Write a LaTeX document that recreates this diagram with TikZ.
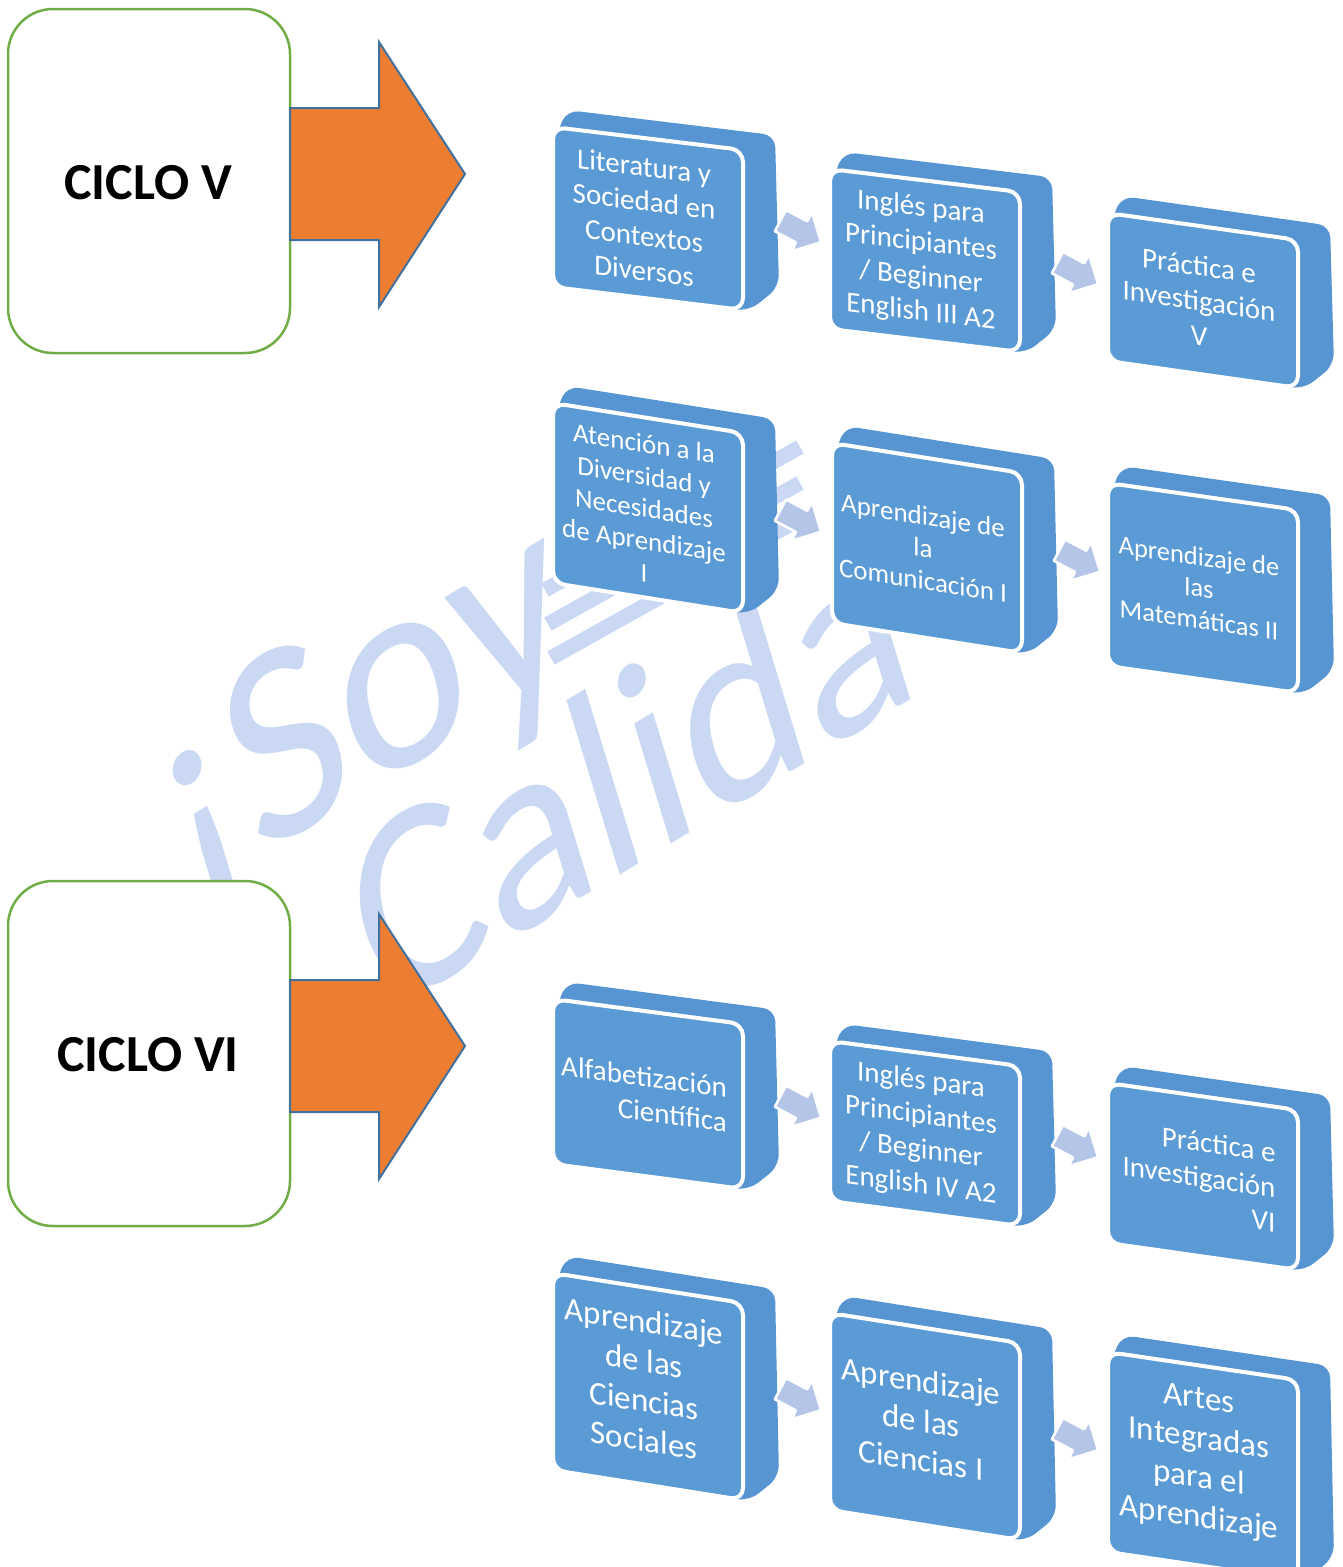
\documentclass[tikz,border=0pt]{standalone}
\usepackage{fontspec}
\setmainfont{Carlito}
\definecolor{cgreen}{HTML}{70AD47}
\definecolor{corange}{HTML}{ED7D31}
\definecolor{cblue}{HTML}{41719C}
\definecolor{bfront}{HTML}{5B9BD5}
\definecolor{bback}{HTML}{5795D2}
\definecolor{aclr}{HTML}{B4C5E7}
\definecolor{wmclr}{HTML}{CAD8F4}
\tikzset{
  cyclebox/.style={draw=cgreen, line width=2.5pt, rounded corners=45pt, fill=white},
  bigarrow/.style={fill=corange, draw=cblue, line width=2pt, line join=miter},
  backplate/.style={fill=bback, rounded corners=12pt},
  frontface/.style={fill=bfront, draw=white, line width=4pt, rounded corners=12pt},
  btext/.style={text=white, inner sep=0pt},
  minarrow/.style={fill=aclr, draw=white, line width=2.5pt, line join=round},
  wm/.style={text=wmclr, inner sep=0pt},
  stripe/.style={draw=wmclr, line width=15pt},
}
\def\toff{0}
\newcommand{\mybox}[9]{%
  \begin{scope}[shift={(#1,#2)}]
    \pgfmathsetmacro{\hh}{#3}
    \pgfmathsetmacro{\ss}{#4}
    \pgfmathsetmacro{\slnt}{-#4/190}
    \fill[backplate] (4,6) -- (14,-17) -- (222,{-17+1.1*\ss}) -- (226,{\hh+\ss-23}) -- (196,{\hh+\ss+1}) -- (0,\hh) -- cycle;
    \draw[frontface] (0,0) -- (190,\ss) -- (190,{\ss+\hh}) -- (0,\hh) -- cycle;
    \node[btext, align=#8, yslant=\slnt, font=\fontsize{#6}{\fpeval{1.2*#6}}\selectfont] (#5) at (91,{(\hh+\ss)/2+\toff}) {#7};
    #9
  \end{scope}}
\newcommand{\smallarrow}[1]{%
  \draw[minarrow, shift={(246,{(\hh+\ss)/2+12})}, rotate=-28]
    (-21,-12) -- (3,-12) -- (3,-22) -- (25,0) -- (3,22) -- (3,12) -- (-21,12) -- cycle;}
\begin{document}
\begin{tikzpicture}[x=1pt,y=-1pt]
\useasboundingbox (0,0) rectangle (1342,1567);
\fill[white] (0,0) rectangle (1342,1567);
% watermark
\draw[stripe] (545,590) -- (800,447);
\draw[stripe] (548,624) -- (800,483);
\draw[stripe] (551,658) -- (800,519);
\node[wm, font=\fontsize{265}{265}\selectfont, rotate=31, xslant=0.25] (wm1) at (365,718) {¡Soy};
\node[wm, font=\fontsize{255}{255}\selectfont, rotate=31, xslant=0.25] (wm2) at (628,768) {Calida};
% ciclo boxes
\draw[cyclebox] (8,9) rectangle (290,353);
\node[font=\fontsize{52}{60}\selectfont\bfseries] (c5) at (148,183) {CICLO V};
\draw[bigarrow] (290,108) -- (379,108) -- (379,42) -- (465,174) -- (379,307) -- (379,240) -- (290,240) -- cycle;
\draw[cyclebox] (8,881) rectangle (290,1226);
\node[font=\fontsize{52}{60}\selectfont\bfseries] (c6) at (148,1055) {CICLO VI};
\draw[bigarrow] (290,980) -- (379,980) -- (379,914) -- (465,1046) -- (379,1179) -- (379,1112) -- (290,1112) -- cycle;
% row 1
\mybox{553}{127}{160}{23}{b11}{29}{Literatura y\\Sociedad en\\Contextos\\Diversos}{center}{\smallarrow{}}
\mybox{830}{169}{160}{23}{b12}{29}{Inglés para\\Principiantes\\/ Beginner\\English III A2}{center}{\smallarrow{}}
\mybox{1108}{213}{148}{27}{b13}{29}{Práctica e\\Investigación\\V}{center}{}
% row 2
\mybox{553}{403}{180}{30}{b21}{27}{Atención a la\\Diversidad y\\Necesidades\\de Aprendizaje\\I}{center}{\smallarrow{}}
\mybox{832}{443}{180}{30}{b22}{27}{Aprendizaje de\\la\\Comunicación I}{center}{\smallarrow{}}
\mybox{1108}{483}{183}{27}{b23}{26.5}{Aprendizaje de\\las\\Matemáticas II}{center}{}
% row 3
\mybox{553}{999}{165}{25}{b31}{29}{Alfabetización\\Científica}{right}{\smallarrow{}}
\mybox{830}{1041}{160}{25}{b32}{29}{Inglés para\\Principiantes\\/ Beginner\\English IV A2}{center}{\smallarrow{}}
\mybox{1108}{1083}{160}{27}{b33}{29}{Práctica e\\Investigación\\VI}{right}{}
% row 4
\def\toff{-6}
\mybox{553}{1273}{197}{30}{b41}{33}{Aprendizaje\\de las\\Ciencias\\Sociales}{center}{\smallarrow{}}
\mybox{830}{1313}{197}{30}{b42}{33}{Aprendizaje\\de las\\Ciencias I}{center}{\smallarrow{}}
\mybox{1108}{1352}{200}{28}{b43}{33}{Artes\\Integradas\\para el\\Aprendizaje}{center}{}
\end{tikzpicture}
\end{document}
